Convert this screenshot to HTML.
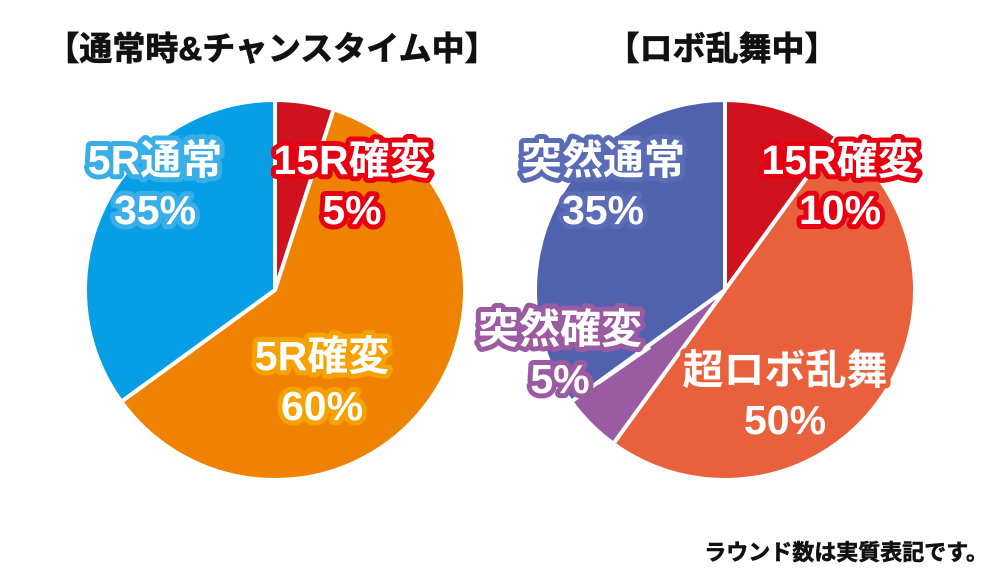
<!DOCTYPE html>
<html><head><meta charset="utf-8"><style>
html,body{margin:0;padding:0;background:#fff;}
svg text{font-family:"Liberation Sans","Noto Sans CJK JP",sans-serif;font-weight:bold;}
</style></head><body>
<svg id="c" width="1000" height="577" viewBox="0 0 1000 577" xmlns="http://www.w3.org/2000/svg">
<text x="272" y="60" font-size="33" text-anchor="middle" fill="#111" stroke="#111" stroke-width="0.8">【通常時&amp;チャンスタイム中】</text>
<text x="722" y="60" font-size="33" text-anchor="middle" fill="#111" stroke="#111" stroke-width="0.8">【ロボ乱舞中】</text>
<g id="lp"></g>
<g id="rp"></g>
<line x1="598" y1="383" x2="650" y2="347" stroke="#fff" stroke-width="4"/>
<g id="labels"></g>
<text x="988" y="560" font-size="22" text-anchor="end" fill="#111" stroke="#111" stroke-width="0.6">ラウンド数は実質表記です。</text>
</svg>
<script>
const leftNames = ["15R確変","5R確変","5R通常"];
const leftValues = [5,60,35];
const leftColors = ["#d0121f","#ef8200","#069ee4"];
const rightNames = ["15R確変","超ロボ乱舞","突然確変","突然通常"];
const rightValues = [10,50,5,35];
const rightColors = ["#d0121f","#e8603c","#9b5ba3","#5062ad"];
const NS="http://www.w3.org/2000/svg";
function pt(cx,cy,r,a){const t=a*Math.PI/180;return [cx+r*Math.sin(t),cy-r*Math.cos(t)];}
function pie(g,cx,cy,r,vals,cols,names){
  const tot=vals.reduce((a,b)=>a+b,0);let a0=0;
  vals.forEach((v,i)=>{
    const a1=a0+v/tot*360;
    const p0=pt(cx,cy,r,a0),p1=pt(cx,cy,r,a1);
    const large=(a1-a0)>180?1:0;
    const p=document.createElementNS(NS,"path");
    p.setAttribute("d",`M${cx},${cy}L${p0[0]},${p0[1]}A${r},${r} 0 ${large} 1 ${p1[0]},${p1[1]}Z`);
    p.setAttribute("fill",cols[i]);p.setAttribute("stroke","#fff");p.setAttribute("stroke-width","4");p.setAttribute("stroke-linejoin","round");
    
    
    g.appendChild(p);a0=a1;
  });
}
pie(document.getElementById("lp"),275,290,190,leftValues,leftColors,leftNames);
pie(document.getElementById("rp"),725,290,190,rightValues,rightColors,rightNames);
const labels=[
 [155,174,"5R通常",leftValues[2],"#3aaee8"],
 [352,174,"15R確変",leftValues[0],"#e60012"],
 [322,370,"5R確変",leftValues[1],"#f5a100"],
 [603,174,"突然通常",rightValues[3],"#5a6cb5"],
 [840,174,"15R確変",rightValues[0],"#e60012"],
 [560,343,"突然確変",rightValues[2],"#9b5ba3"],
 [785,384,"超ロボ乱舞",rightValues[1],"#e8603c"]
];
const lg=document.getElementById("labels");
labels.forEach(l=>{
  [[l[2],0],[l[3]+"%",50]].forEach(([s,dy],k)=>{
    const t=document.createElementNS(NS,"text");
    t.setAttribute("x",l[0]);t.setAttribute("y",l[1]+dy);t.setAttribute("font-size","41");
    t.setAttribute("text-anchor","middle");t.setAttribute("fill","#fff");
    t.setAttribute("stroke",l[4]);t.setAttribute("stroke-width","10");t.setAttribute("stroke-linejoin","round");
    t.setAttribute("paint-order","stroke");
    t.textContent=s;
    
    
    lg.appendChild(t);
  });
});
</script>
</body></html>
